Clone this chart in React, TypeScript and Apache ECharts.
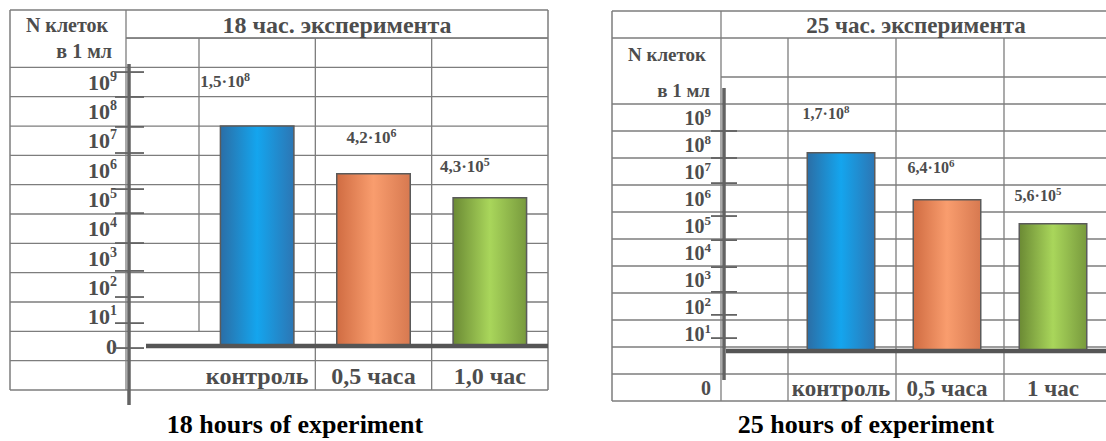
import React, { useEffect, useRef } from "react";
import * as echarts from "echarts";

// ---------------- data ----------------
const categories18 = ["контроль", "0,5 часа", "1,0 час"];
const categories25 = ["контроль", "0,5 часа", "1 час"];
// bar tops as drawn, in decades above each panel's baseline
const barHeights18 = [7.53, 5.9, 5.08];
const barHeights25 = [7.37, 5.63, 4.74];
// printed values (mantissa · 10^exponent)
const mantissas18 = ["1,5", "4,2", "4,3"];
const exponents18 = [8, 6, 5];
const mantissas25 = ["1,7", "6,4", "5,6"];
const exponents25 = [8, 6, 5];
// axis labels 10^1 … 10^9 and "0"
const axisExponents = [1, 2, 3, 4, 5, 6, 7, 8, 9];
const zeroLabelPos18 = 0;
const zeroLabelPos25 = -1;
// hand-drawn tick marks on the vertical axis (decade units of the label scale)
const tickMarks18 = [9.34, 8.49, 7.47, 6.58, 5.35, 4.53, 3.51, 2.56, 1.67, 0.78, -0.07];
const tickMarks25 = [8.5, 7.5, 6.57, 5.35, 4.46, 3.46, 2.54, 1.69, 0.83];
const titles = ["18 час. эксперимента", "25 час. эксперимента"];
const captions = ["18 hours of experiment", "25 hours of experiment"];
const yTitleLines = ["N клеток", "в 1 мл"];

// ---------------- styles / layout ----------------
const FONT = '"Liberation Serif", "DejaVu Serif", serif';
const TXT = "#4d4d4d";
const GRIDC = "#7d7d7d";
const AXISC = "#636363";
const BAR_GRADIENTS = [
  ["#2b6ea6", "#14a5ee", "#2c76b4"],
  ["#d06c42", "#f99d6e", "#d77950"],
  ["#6b8a34", "#a9d65b", "#789a3d"],
];

const L18 = {
  x0: 10, x1: 548, yTop: 10, labelColX: 126, plotX: 199, headerY: 38, headerFull: false,
  unit: 29.33, zeroY: 346, baseY: 346, axisX: 129, axisTop: 64, axisBottom: 405,
  tickX1: 115, tickX2: 144, baseX1: 146, barWidth: 75, plotBottom: 361, firstColBottomW: 0.5,
  labelMargin: 9, axisFont: 22, axisSup: 14, catFont: 24, catMargin: 15, valFont: 17,
  nFont: 20, titleFont: 24,
  nTitle: { x: 67, y: 25 }, nSub: { x: 112, y: 51 }, title: { x: 337, y: 25 }, caption: { x: 295, y: 424 },
  labelDist: [33, 25, 20], labelShift: [-32, -2, -25],
};
const L25 = {
  x0: 612, x1: 1112, yTop: 11, labelColX: 721, plotX: 788, headerY: 38, headerFull: true,
  unit: 27, zeroY: 360.5, baseY: 351, axisX: 724, axisTop: 88, axisBottom: 380,
  tickX1: 711, tickX2: 737, baseX1: 726, barWidth: 69, plotBottom: 374, firstColBottomW: -1.5,
  labelMargin: 10, axisFont: 20, axisSup: 13, catFont: 23, catMargin: 14, valFont: 16,
  nFont: 19, titleFont: 23,
  nTitle: { x: 667, y: 54 }, nSub: { x: 710, y: 90 }, title: { x: 916, y: 25 }, caption: { x: 866, y: 424 },
  labelDist: [29, 21, 18], labelShift: [-15, -16, -15],
};

function hLine(x1: number, x2: number, y: number, w = 1.3, c = GRIDC, z = 0) {
  return { type: "line", silent: true, z, shape: { x1, y1: y, x2, y2: y }, style: { stroke: c, lineWidth: w } };
}
function vLine(x: number, y1: number, y2: number, w = 1.3, c = GRIDC, z = 0) {
  return { type: "line", silent: true, z, shape: { x1: x, y1, x2: x, y2 }, style: { stroke: c, lineWidth: w } };
}
function text(t: string, x: number, y: number, size: number, align: string, color = TXT, z = 5) {
  return {
    type: "text", silent: true, z,
    style: {
      text: t, x, y, fill: color, font: `bold ${size}px ${FONT}`,
      align, textAlign: align, verticalAlign: "middle", textVerticalAlign: "middle",
    },
  };
}

function buildPanel(
  L: any, gi: number, cats: string[], heights: number[], mants: string[], exps: number[],
  ticks: number[], zeroPos: number, title: string, caption: string
) {
  const yOf = (w: number) => L.zeroY - w * L.unit;
  const grids = [
    { left: L.labelColX, top: yOf(11), width: L.plotX - L.labelColX, height: 13 * L.unit },
    { left: L.plotX, top: L.headerY, width: L.x1 - L.plotX, height: L.plotBottom - L.headerY },
  ];
  const xAxes = [
    { gridIndex: gi, type: "value", show: false, min: 0, max: 1 },
    {
      gridIndex: gi + 1, type: "category", data: cats, boundaryGap: true,
      axisLine: { show: false }, axisTick: { show: false }, splitLine: { show: false },
      axisLabel: {
        margin: L.catMargin, verticalAlign: "middle", fontFamily: FONT, fontWeight: "bold",
        fontSize: L.catFont, color: TXT, interval: 0,
      },
    },
  ];
  const yAxes = [
    {
      gridIndex: gi, type: "value", min: -2, max: 11, interval: 1,
      axisLine: { show: false }, axisTick: { show: false }, splitLine: { show: false },
      axisLabel: {
        margin: L.labelMargin, align: "right",
        formatter: (v: number) => {
          if (v === zeroPos) return "{m|0}";
          if (axisExponents.includes(v)) return `{m|10}{s|${v}}`;
          return "";
        },
        rich: {
          m: { fontFamily: FONT, fontWeight: "bold", fontSize: L.axisFont, color: TXT, lineHeight: L.axisFont + 4 },
          s: { fontFamily: FONT, fontWeight: "bold", fontSize: L.axisSup, color: TXT, lineHeight: L.axisSup, verticalAlign: "top" },
        },
      },
    },
    {
      gridIndex: gi + 1, type: "value", show: false,
      min: -(L.plotBottom - L.baseY) / L.unit, max: (L.baseY - L.headerY) / L.unit,
    },
  ];
  const series = [
    {
      type: "bar", xAxisIndex: gi + 1, yAxisIndex: gi + 1, barWidth: L.barWidth, z: 3,
      data: heights.map((h, i) => ({
        value: h,
        itemStyle: {
          color: new echarts.graphic.LinearGradient(0, 0, 1, 0, [
            { offset: 0, color: BAR_GRADIENTS[i][0] },
            { offset: 0.5, color: BAR_GRADIENTS[i][1] },
            { offset: 1, color: BAR_GRADIENTS[i][2] },
          ]),
          borderColor: "#5a5a5a", borderWidth: 1.5,
        },
        label: {
          show: true, position: "top", distance: L.labelDist[i], offset: [L.labelShift[i], 0],
          formatter: `{m|${mants[i]}·10}{s|${exps[i]}}`,
          rich: {
            m: { fontFamily: FONT, fontWeight: "bold", fontSize: L.valFont, color: TXT, lineHeight: L.valFont + 4 },
            s: { fontFamily: FONT, fontWeight: "bold", fontSize: L.valFont - 5, color: TXT, lineHeight: L.valFont - 4, verticalAlign: "top" },
          },
        },
      })),
    },
  ];

  const g: any[] = [];
  const bottom = yOf(-1.5);
  // outer frame
  g.push(hLine(L.x0, L.x1, L.yTop, 1.5));
  g.push(hLine(L.x0, L.x1, bottom, 1.5));
  g.push(vLine(L.x0, L.yTop, bottom, 1.5));
  g.push(vLine(L.x1, L.yTop, bottom, 1.5));
  g.push(vLine(L.labelColX, L.yTop, bottom));
  // header line
  g.push(hLine(L.headerFull ? L.x0 : L.labelColX, L.x1, L.headerY));
  // upper row line (right of label column)
  g.push(hLine(L.labelColX, L.x1, yOf(10.5)));
  // row lines
  for (let w = -0.5; w <= 9.5; w += 1) g.push(hLine(L.x0, L.x1, yOf(w)));
  // column lines
  const colW = (L.x1 - L.plotX) / cats.length;
  g.push(vLine(L.plotX, L.headerY, yOf(L.firstColBottomW)));
  for (let i = 1; i < cats.length; i++) g.push(vLine(L.plotX + i * colW, L.headerY, bottom));
  // vertical axis + hand-drawn ticks
  g.push(vLine(L.axisX, L.axisTop, L.axisBottom, 3.5, AXISC, 10));
  ticks.forEach((t) => g.push(hLine(L.tickX1, L.tickX2, yOf(t), 1.8, AXISC, 10)));
  // baseline
  g.push(hLine(L.baseX1, L.x1, L.baseY, 4.5, "#555555", 10));
  // texts
  g.push(text(yTitleLines[0], L.nTitle.x, L.nTitle.y, L.nFont, "center"));
  g.push(text(yTitleLines[1], L.nSub.x, L.nSub.y, L.nFont, "right"));
  g.push(text(title, L.title.x, L.title.y, L.titleFont, "center"));
  g.push(text(caption, L.caption.x, L.caption.y, 26, "center", "#000000"));

  return { grids, xAxes, yAxes, series, g };
}

const p1 = buildPanel(L18, 0, categories18, barHeights18, mantissas18, exponents18, tickMarks18, zeroLabelPos18, titles[0], captions[0]);
const p2 = buildPanel(L25, 2, categories25, barHeights25, mantissas25, exponents25, tickMarks25, zeroLabelPos25, titles[1], captions[1]);

const option: any = {
  animation: false,
  backgroundColor: "#ffffff",
  grid: [...p1.grids, ...p2.grids],
  xAxis: [...p1.xAxes, ...p2.xAxes],
  yAxis: [...p1.yAxes, ...p2.yAxes],
  series: [...p1.series, ...p2.series],
  graphic: { elements: [...p1.g, ...p2.g] },
};

export default function App() {
  const ref = useRef<HTMLDivElement>(null);
  useEffect(() => {
    const chart = echarts.init(ref.current as HTMLDivElement, null, { renderer: "svg" });
    chart.setOption(option);
    return () => chart.dispose();
  }, []);
  return (
    <div
      ref={ref}
      style={{ position: "absolute", left: 0, top: 0, width: 1106, height: 441, background: "#fff" }}
    />
  );
}
